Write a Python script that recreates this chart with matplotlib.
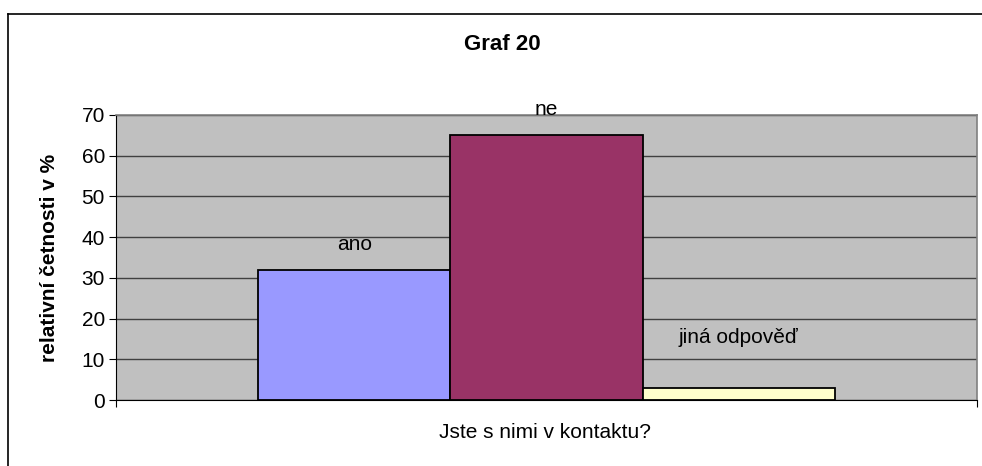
import numpy as np
import matplotlib
matplotlib.use("Agg")
import matplotlib.pyplot as plt
from matplotlib.lines import Line2D

# data
categories = ["ano", "ne", "jiná odpověď"]
values = [32, 65, 3]
colors = ["#9999FF", "#993366", "#FFFFCC"]
yticks = [0, 10, 20, 30, 40, 50, 60, 70]
# odsazení popisků nad sloupci (body)
label_offsets = [14.5, 14.5, 32.5]

plt.rcParams["font.family"] = ["Liberation Sans", "DejaVu Sans"]
plt.rcParams["font.size"] = 15

W, H = 982, 466
fig = plt.figure(figsize=(W / 100, H / 100), dpi=100)
ax = fig.add_axes([116 / W, (H - 400) / H, 861 / W, 285 / H])
ax.set_facecolor("#C0C0C0")

# okraj celého grafu (vlevo a nahoře, zbytek je oříznutý)
fig.add_artist(Line2D([8 / W, 8 / W], [0, 1 - 14 / H], color="black", lw=1.2, transform=fig.transFigure))
fig.add_artist(Line2D([8 / W, 1], [1 - 14 / H, 1 - 14 / H], color="black", lw=1.2, transform=fig.transFigure))

x = np.arange(len(categories)) - 1
ax.bar(x, values, width=1.0, color=colors, edgecolor="black", linewidth=1.3, zorder=3)

for xi, v, lab, off in zip(x, values, categories, label_offsets):
    ax.annotate(lab, (xi, v), xytext=(0, off), textcoords="offset points",
                ha="center", va="baseline", fontsize=15, zorder=4, annotation_clip=False)

ax.set_xlim(-2.242, 2.242)
ax.set_ylim(0, 70)
ax.set_yticks(yticks)
ax.yaxis.grid(True, color="#404040", lw=1.0, zorder=1)
ax.set_axisbelow(True)

ax.set_xticks([-2.242, 2.242])
ax.set_xticklabels(["", ""])
ax.tick_params(axis="x", length=5, color="black")
ax.tick_params(axis="y", length=5, color="black", labelsize=15, pad=3)

for side in ["top", "right"]:
    ax.spines[side].set_color("#808080")
    ax.spines[side].set_linewidth(1.2)
ax.spines["left"].set_color("black")
ax.spines["bottom"].set_color("black")

fig.text(50 / W, 1 - 258 / H, "relativní četnosti v %", rotation=90, ha="center", va="center",
         fontweight="bold", fontsize=15)
fig.text(545 / W, 1 - 432 / H, "Jste s nimi v kontaktu?", ha="center", va="center", fontsize=15)
fig.text(502 / W, 1 - 44 / H, "Graf 20", ha="center", va="center", fontweight="bold", fontsize=16)

fig.savefig("out.png", dpi=100)
